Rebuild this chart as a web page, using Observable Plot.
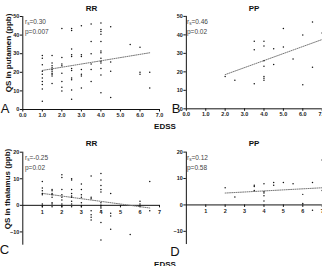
<!DOCTYPE html>
<html>
<head>
<meta charset="utf-8">
<script src="https://cdn.jsdelivr.net/npm/d3@7"></script>
<script src="https://cdn.jsdelivr.net/npm/@observablehq/plot@0.6"></script>
<style>
  html, body { margin: 0; padding: 0; background: #fff; overflow: hidden; }
  #fig { position: relative; width: 322px; height: 266px; overflow: hidden; font-family: "Liberation Sans", Arial, sans-serif; color: #111; }
  .abs { position: absolute; white-space: nowrap; }
  .c { transform: translate(-50%, -50%); }
  .title { font-weight: bold; font-size: 8px; }
  .ylab { font-weight: bold; font-size: 8px; transform: translate(-50%, -50%) rotate(-90deg); }
  .letter { font-size: 13px; }
  .stat { font-size: 6.5px; color: #444; line-height: 8.3px; }
  .stat sub { font-size: 4.5px; vertical-align: -1px; }
  .pl { position: absolute; }
</style>
</head>
<body>
<div id="fig"></div>
<script>
// ---- Data ----
const xTicks = [0, 1, 2, 3, 4, 5, 6, 7];
const putamenTicks = [0, 10, 20, 30, 40, 50];
const thalamusTicks = [-10, 0, 10, 20];

// A: RR, putamen
const putamenRR_edss = [
  1, 1, 1, 1, 1, 1, 1, 1, 1, 1,
  1.5, 1.5, 1.5, 1.5, 1.5, 1.5, 1.5, 1.5, 1.5, 1.5,
  2, 2, 2, 2, 2, 2, 2, 2,
  2.5, 2.5, 2.5, 2.5, 2.5, 2.5, 2.5, 2.5, 2.5, 2.5, 2.5,
  3, 3, 3, 3, 3, 3, 3,
  3.5, 3.5, 3.5, 3.5, 3.5, 3.5,
  4, 4, 4, 4, 4, 4, 4, 4, 4, 4, 4, 4, 4,
  4.5, 4.5, 4.5, 4.5,
  5.5,
  6, 6, 6,
  6.5, 6.5
];
const putamenRR_qs = [
  29, 27.5, 24, 20.5, 19, 17, 15, 13.5, 11, 4.5,
  29, 25, 23.5, 22.5, 21.5, 20.5, 19.5, 19, 18, 14,
  43.5, 28, 24.5, 23.5, 19.5, 15, 12, 10,
  43.5, 42.5, 32.5, 29.5, 28.5, 22, 21, 17, 16, 10.5, 5.5,
  45, 29.5, 28.5, 21.5, 19, 18, 11.5,
  46, 36.5, 30, 24.5, 21.5, 15,
  46.5, 43, 42, 40.5, 36.5, 31.5, 30.5, 27.5, 26, 25, 22, 18.5, 9,
  44.5, 25.5, 20.5, 6.5,
  35,
  33.5, 20, 19,
  20, 11.5
];
const putamenRR_trendX = [1, 6.5];
const putamenRR_trendY = [21, 30.5];

// B: PP, putamen
const putamenPP_edss = [
  2, 2.5, 3.5, 3.5, 3.5,
  4, 4, 4, 4, 4, 4, 4,
  4.5, 4.5, 5, 5, 5.5, 6, 6, 6.5, 6.5, 7
];
const putamenPP_qs = [
  17.5, 15.5, 36.5, 32, 13.5,
  36.5, 34, 26, 23, 17.5, 16.5, 15.5,
  32.5, 24, 43.5, 33.5, 27, 40, 13, 47, 22.5, 41
];
const putamenPP_trendX = [2, 7];
const putamenPP_trendY = [18.5, 37.5];

// C: RR, thalamus
const thalamusRR_edss = [
  1, 1, 1, 1, 1, 1, 1,
  1.5, 1.5, 1.5, 1.5, 1.5, 1.5, 1.5, 1.5,
  2, 2, 2, 2, 2, 2, 2, 2,
  2.5, 2.5, 2.5, 2.5, 2.5, 2.5, 2.5, 2.5, 2.5,
  3, 3, 3, 3, 3, 3,
  3.5, 3.5, 3.5, 3.5, 3.5, 3.5, 3.5,
  4, 4, 4, 4, 4, 4, 4, 4, 4, 4, 4,
  4.5, 4.5, 4.5, 4.5,
  5.5,
  6, 6,
  6.5, 6.5
];
const thalamusRR_qs = [
  9, 6.5, 5.5, 4.5, 4, 0.5, -0.5,
  6, 5.5, 4.5, 4, 3, 1, 0.5, -0.5,
  11.5, 10.5, 6, 4, 3, 2, 0.5, -0.5,
  10, 9.5, 6, 4.5, 3.5, 3, 1.5, 0.5, -0.5,
  8, 6, 4, 3, 1, -0.5,
  11, 3, 2.5, -2, -3.5, -4.5, -5.5,
  12, 9.5, 7.5, 6, 5, 1, 0, -1, -2, -6.5, -13,
  4.5, -3, -4, -9,
  -11,
  1.5, 0.5,
  9, -2
];
const thalamusRR_trendX = [1, 6.5];
const thalamusRR_trendY = [4.5, -1];

// D: PP, thalamus
const thalamusPP_edss = [
  2, 2.5, 3.5, 3.5, 3.5,
  4, 4, 4, 4, 4,
  4.5, 4.5, 5, 5.5, 6, 6, 6.5, 6.5, 7, 7
];
const thalamusPP_qs = [
  6.5, 3, 7.5, 7, 5.5,
  8, 5, 4.5, 3.5, 1.5,
  8.5, 7.5, 8.5, 8, 4, 0.5, 8.5, -2, 17, 5.5
];
const thalamusPP_trendX = [2, 7];
const thalamusPP_trendY = [4.5, 6.5];

// ---- Drawing ----
const fig = document.getElementById("fig");
const tickFont = { fontSize: 5.5, fontWeight: "bold" };

function panel(o) {
  const pts = o.edss.map((x, i) => ({ x, y: o.qs[i] }));
  const trend = o.trendX.map((x, i) => ({ x, y: o.trendY[i] }));
  const marks = [
    Plot.ruleX([0], { stroke: "#111", strokeWidth: 1 }),
    Plot.ruleY([0], { stroke: "#111", strokeWidth: 1 }),
    Plot.axisY({ ticks: o.yTicks, tickSize: 2.5, tickPadding: 1, label: null, ...tickFont, fill: "#222" }),
    Plot.line(trend, { x: "x", y: "y", stroke: "#777", strokeWidth: 1, strokeDasharray: "1,1.2" }),
    Plot.dot(pts, { x: "x", y: "y", r: 0.75, fill: "#111", stroke: "none" })
  ];
  if (o.zeroAxis) {
    const t = xTicks.filter(d => d > 0);
    marks.push(Plot.ruleX(t, { x: d => d, y1: 0, y2: -0.95, stroke: "#111" }));
    marks.push(Plot.text(t, { x: d => d, y: 0, text: d => String(d), dy: 6.5, ...tickFont, fill: "#222" }));
  } else {
    marks.push(Plot.axisX({ ticks: xTicks, tickSize: 2.5, tickPadding: 1, label: null, ...tickFont, fill: "#222" }));
  }
  const svg = Plot.plot({
    width: o.width, height: o.height,
    marginLeft: o.ml, marginRight: o.mr, marginTop: o.mt, marginBottom: o.mb,
    x: { domain: [0, 7], axis: null, label: null },
    y: { domain: o.yDomain, axis: null, label: null },
    style: { fontFamily: "Liberation Sans, Arial, sans-serif", background: "transparent", overflow: "visible" },
    marks
  });
  const wrap = document.createElement("div");
  wrap.className = "pl";
  wrap.style.left = o.left + "px";
  wrap.style.top = o.top + "px";
  wrap.appendChild(svg);
  fig.appendChild(wrap);
}

panel({ edss: putamenRR_edss, qs: putamenRR_qs, trendX: putamenRR_trendX, trendY: putamenRR_trendY,
  yDomain: [0, 50], yTicks: putamenTicks, zeroAxis: false,
  left: 0, top: 0, width: 165, height: 120, ml: 22.3, mr: 6, mt: 16, mb: 11 });
panel({ edss: putamenPP_edss, qs: putamenPP_qs, trendX: putamenPP_trendX, trendY: putamenPP_trendY,
  yDomain: [0, 50], yTicks: putamenTicks, zeroAxis: false,
  left: 160, top: 0, width: 163, height: 120, ml: 26, mr: 0.3, mt: 16, mb: 11 });
panel({ edss: thalamusRR_edss, qs: thalamusRR_qs, trendX: thalamusRR_trendX, trendY: thalamusRR_trendY,
  yDomain: [-15, 20], yTicks: thalamusTicks, zeroAxis: true,
  left: 0, top: 140, width: 165, height: 110, ml: 22.3, mr: 6, mt: 11.7, mb: 5.3 });
panel({ edss: thalamusPP_edss, qs: thalamusPP_qs, trendX: thalamusPP_trendX, trendY: thalamusPP_trendY,
  yDomain: [-15, 20], yTicks: thalamusTicks, zeroAxis: true,
  left: 160, top: 140, width: 163, height: 110, ml: 26, mr: 0.3, mt: 11.7, mb: 5.3 });

// ---- Text annotations ----
function addText(html, cls, x, y) {
  const d = document.createElement("div");
  d.className = "abs " + cls;
  d.style.left = x + "px";
  d.style.top = y + "px";
  d.innerHTML = html;
  fig.appendChild(d);
}
addText("RR", "title c", 91.5, 7.5);
addText("PP", "title c", 254, 7.5);
addText("RR", "title c", 91.5, 143);
addText("PP", "title c", 254, 143);
addText("QS in putamen (ppb)", "ylab", 7.5, 53);
addText("QS in thalamus (ppb)", "ylab", 7, 189);
addText("EDSS", "title c", 165, 126);
addText("EDSS", "title c", 165, 264);
addText("A", "letter c", 5, 108);
addText("B", "letter c", 176, 108);
addText("C", "letter c", 4.5, 249);
addText("D", "letter c", 175, 251);
addText("r<sub>s</sub>=0.30<br>p=0.007", "stat", 25, 18);
addText("r<sub>s</sub>=0.46<br>p=0.02", "stat", 187, 18);
addText("r<sub>s</sub>=-0.25<br>p=0.02", "stat", 25, 154);
addText("r<sub>s</sub>=0.12<br>p=0.58", "stat", 187, 154);
</script>
</body>
</html>
